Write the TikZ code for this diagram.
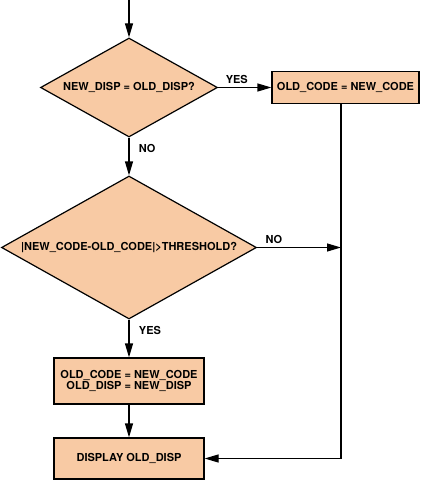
\documentclass[tikz,border=0pt]{standalone}
\usepackage{fontspec}
\setmainfont{TeX Gyre Heros}
\usetikzlibrary{shapes.geometric,arrows.meta,positioning}
\definecolor{boxfill}{RGB}{248,202,164}

\begin{document}
\begin{tikzpicture}[x=1pt, y=-1pt, line width=1.2pt,
    every node/.style={font=\fontsize{11}{11}\selectfont\bfseries},
    test/.style={diamond, draw, fill=boxfill, inner sep=0pt, aspect=1.8},
    block/.style={rectangle, draw, fill=boxfill, align=center, inner sep=0pt},
    flow/.style={-{Triangle[length=14pt,width=8pt]}}]
  \useasboundingbox (0,0) rectangle (421,481);
  \coordinate (start) at (129,0);
  \node [test, minimum width=177pt, minimum height=99pt] (same) at (129,87.5) {NEW\_DISP = OLD\_DISP?};
  \node [block, minimum width=147pt, minimum height=32pt] (keep) at (345.5,87.5) {OLD\_CODE = NEW\_CODE};
  \node [test, minimum width=255pt, minimum height=143pt] (diff) at (129,247.5) {|NEW\_CODE-OLD\_CODE|>THRESHOLD?};
  \node [block, minimum width=150pt, minimum height=46pt] (swap) at (129,381) {OLD\_CODE = NEW\_CODE\\OLD\_DISP = NEW\_DISP};
  \node [block, minimum width=150pt, minimum height=41pt] (show) at (129,458.5) {DISPLAY OLD\_DISP};
  \coordinate (join) at (341,247.5);

  \draw [flow] (start) -- (same.north);
  \draw [flow] (same.east) -- node[above, pos=0.35] {YES} (keep.west);
  \draw [flow] (same.south) -- node[right=6pt, pos=0.3] {NO} (diff.north);
  \draw [flow] (diff.east) -- node[above, pos=0.2] {NO} (join);
  \draw [flow] (diff.south) -- node[right=6pt, pos=0.3] {YES} (swap.north);
  \draw [flow] (swap) -- (show);
  \draw [flow] (keep.south -| join) |- (show.east);
\end{tikzpicture}
\end{document}
